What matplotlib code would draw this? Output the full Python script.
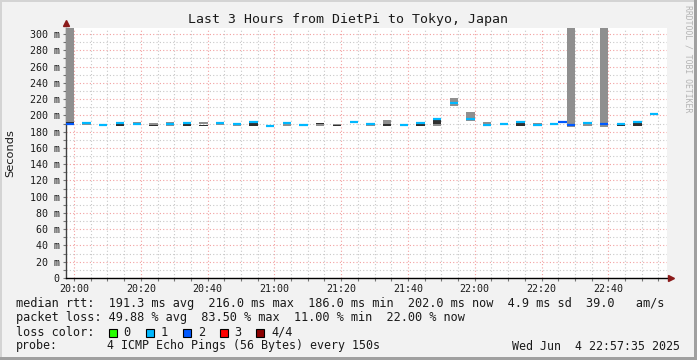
import numpy as np
import matplotlib
matplotlib.use('Agg')
import matplotlib.pyplot as plt
from matplotlib.patches import Rectangle

nan = np.nan
# slot end time, minutes after 20:00 (each slot = 2.5 min)
slot_end = [0, 5, 10, 15, 20, 25, 30, 35, 40, 45, 50, 55, 60, 65, 70, 75, 80, 85, 90,
            95, 100, 105, 110, 115, 120, 125, 130, 135, 140, 145, 147.5, 150, 155, 160,
            165, 170, 175]
median_ms = [189.0, 190.3, 188.0, 190.5, 189.5, nan, 189.5, 190.5, nan, 190.5, 189.0,
             191.5, 186.5, 190.5, 188.0, nan, nan, 192.3, 189.5, nan, 188.0, 190.5,
             196.0, 215.5, 195.7, 188.0, 189.0, 192.0, 188.5, 189.0, 191.5, 188.0,
             190.5, 189.5, 190.0, 192.0, 202.0]
loss = [2, 1, 1, 1, 1, 1, 1, 1, 1, 1, 1, 1, 1, 1, 1, 1, 1, 1, 1, 1, 1, 1, 1, 1, 1, 1,
        1, 1, 1, 1, 2, 2, 1, 2, 1, 1, 1]
smoke_lo = [192, 188, nan, nan, 189, 188, 187.5, nan, 189.5, 188, 186.5, nan, nan, 186.5,
            nan, 187.5, 188, nan, 187.5, 189.8, nan, nan, 186.5, 211.5, 192.6, 189.5,
            188, nan, 186.5, nan, nan, 186, 186.5, 186, nan, nan, nan]
smoke_hi = [320, 191, nan, nan, 192, 191, 192, nan, 191.5, 190, 189, nan, nan, 190,
            nan, 190, 190, nan, 189, 194.7, nan, nan, 190, 221, 203.7, 192,
            190, nan, 190.5, nan, nan, 320, 189.5, 320, nan, nan, nan]
dark_lo = [190.5, nan, nan, 187, nan, 187, nan, 187.5, 187, nan, nan, 186.5, nan, nan,
           nan, 190, 187.5, nan, nan, 187, nan, 187, 190, nan, nan, nan, nan, 186.5,
           nan, nan, nan, nan, nan, nan, 186.5, 186.5, nan]
dark_hi = [192, nan, nan, 190, nan, 188, nan, 190, 188.5, nan, nan, 190.5, nan, nan,
           nan, 191, 188.3, nan, nan, 189.8, nan, 189.5, 195, nan, nan, nan, nan, 191,
           nan, nan, nan, nan, nan, nan, 189, 191, nan]

loss_colors = {0: '#26ff00', 1: '#00b8ff', 2: '#0059ff', 3: '#ff0000', 4: '#8b0000'}
legend_labels = ['0', '1', '2', '3', '4/4']
x_major = [0, 20, 40, 60, 80, 100, 120, 140, 160]
x_labels = ['20:00', '20:20', '20:40', '21:00', '21:20', '21:40', '22:00', '22:20', '22:40']
y_major = list(range(0, 301, 20))
y_labels = ['0'] + ['%d m' % v for v in y_major[1:]]

W, H = 697, 360
MONO = 'DejaVu Sans Mono'


def fx(px):
    return px / W


def fy(py):
    return 1 - py / H


fig = plt.figure(figsize=(W / 100, H / 100), dpi=100, facecolor='#f2f2f2')
ax = fig.add_axes([fx(66), fy(278), (667 - 66) / W, (278 - 28) / H])
ax.set_facecolor('white')
ax.set_xlim(-2.42, 177.58)
ax.set_ylim(0, 307.5)

se = np.array(slot_end, dtype=float)
lo = np.array(smoke_lo, dtype=float)
hi = np.array(smoke_hi, dtype=float)
dlo = np.array(dark_lo, dtype=float)
dhi = np.array(dark_hi, dtype=float)
med = np.array(median_ms, dtype=float)

m = ~np.isnan(lo)
ax.bar(se[m] - 2.5, hi[m] - lo[m], bottom=lo[m], width=2.5, align='edge',
       color='#8f8f8f', linewidth=0, zorder=3)
m = ~np.isnan(dlo)
ax.bar(se[m] - 2.5, dhi[m] - dlo[m], bottom=dlo[m], width=2.5, align='edge',
       color='#303030', linewidth=0, zorder=4)
for e, v, l in zip(se, med, loss):
    if not np.isnan(v):
        ax.hlines(v, e - 2.5, e, colors=loss_colors[l], lw=1.6, zorder=5)

ax.set_xticks(x_major)
ax.set_xticklabels(x_labels, family=MONO, fontsize=7.2)
ax.set_xticks(np.arange(0, 178, 5), minor=True)
ax.set_yticks(y_major)
ax.set_yticklabels(y_labels, family=MONO, fontsize=7.2)
ax.set_yticks(np.arange(0, 308, 10), minor=True)
ax.grid(which='major', color='#f2a0a0', linestyle=(0, (1, 2)), lw=0.8, zorder=1)
ax.grid(which='minor', color='#c8c8c8', linestyle=(0, (1, 2)), lw=0.8, zorder=1)
ax.tick_params(which='both', direction='out', length=2, width=0.8, color='#777777',
               pad=2.5, labelcolor='#1a1a1a')
for s in ['top', 'right']:
    ax.spines[s].set_visible(False)
ax.spines['left'].set_color('#404040')
ax.spines['bottom'].set_color('#000000')
ax.spines['left'].set_linewidth(1)
ax.spines['bottom'].set_linewidth(1)
ax.set_axisbelow(True)
ax.plot([0], [1.022], marker='^', ms=4.5, color='#8b1a1a', transform=ax.transAxes,
        clip_on=False, zorder=6)
ax.plot([1.006], [0], marker='>', ms=4.5, color='#8b1a1a', transform=ax.transAxes,
        clip_on=False, zorder=6)

# title and axis label
fig.text(fx(347.5), fy(19), 'Last 3 Hours from DietPi to Tokyo, Japan', ha='center',
         va='center', family=MONO, fontsize=9.5, color='#1a1a1a')
fig.text(fx(10), fy(153), 'Seconds', rotation=90, ha='center', va='center',
         family='DejaVu Sans', fontsize=8.2, color='#1a1a1a')
fig.text(fx(688), fy(5), 'RRDTOOL / TOBI OETIKER', rotation=270, ha='center', va='top',
         family=MONO, fontsize=5.9, color='#b4b4b4')

# legend
LF = 8.55
LF2 = 8.35
fig.text(fx(16), fy(303), 'median rtt:  191.3 ms avg  216.0 ms max  186.0 ms min  '
         '202.0 ms now  4.9 ms sd  39.0   am/s', ha='left', va='center', family=MONO,
         fontsize=LF, color='#1a1a1a')
fig.text(fx(16), fy(317), 'packet loss: 49.88 % avg  83.50 % max  11.00 % min  '
         '22.00 % now', ha='left', va='center', family=MONO, fontsize=LF, color='#1a1a1a')
fig.text(fx(16), fy(332), 'loss color:', ha='left', va='center', family=MONO,
         fontsize=LF, color='#1a1a1a')
box_x = [108.5, 145.8, 182.8, 219.5, 256.2]
for i, bx in enumerate(box_x):
    fig.patches.append(Rectangle((fx(bx), fy(336.5)), 8 / W, 8 / H,
                                 transform=fig.transFigure, facecolor=loss_colors[i],
                                 edgecolor='black', lw=0.8))
    fig.text(fx(bx + 15), fy(332), legend_labels[i], ha='left', va='center',
             family=MONO, fontsize=LF, color='#1a1a1a')
fig.text(fx(16), fy(346), 'probe:', ha='left', va='center', family=MONO,
         fontsize=LF2, color='#1a1a1a')
fig.text(fx(107.3), fy(346), '4 ICMP Echo Pings (56 Bytes) every 150s',
         ha='left', va='center', family=MONO, fontsize=LF2, color='#1a1a1a')
fig.text(fx(680), fy(346), 'Wed Jun  4 22:57:35 2025', ha='right', va='center',
         family=MONO, fontsize=LF2, color='#1a1a1a')

# 3D-ish frame
fig.patches.append(Rectangle((0, 1 - 2 / H), 1, 2 / H, transform=fig.transFigure,
                             color='#d4d4d4', lw=0))
fig.patches.append(Rectangle((0, 0), 2 / W, 1, transform=fig.transFigure,
                             color='#d4d4d4', lw=0))
fig.patches.append(Rectangle((0, 0), 1, 3 / H, transform=fig.transFigure,
                             color='#a0a0a0', lw=0))
fig.patches.append(Rectangle((1 - 3 / W, 0), 3 / W, 1, transform=fig.transFigure,
                             color='#a0a0a0', lw=0))

fig.savefig('out.png', dpi=100, facecolor=fig.get_facecolor())
